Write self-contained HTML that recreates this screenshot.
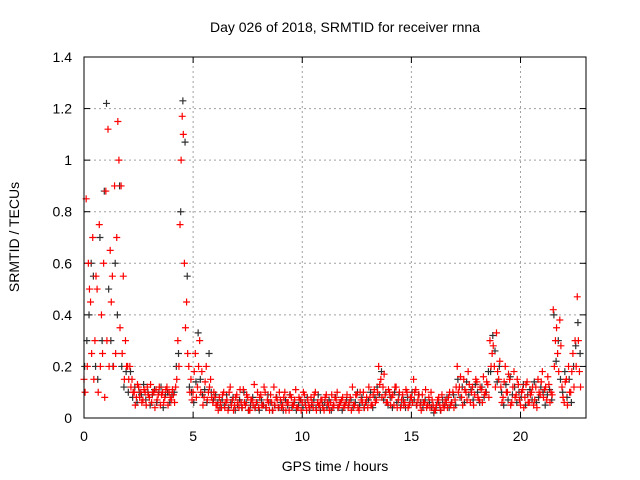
<!DOCTYPE html>
<html><head><meta charset="utf-8"><style>
body{margin:0;background:#fff}
svg{display:block;font-family:"Liberation Sans",sans-serif;font-size:14px}
</style></head><body>
<svg id="chart" width="640" height="480">
<text x="345" y="32" text-anchor="middle">Day 026 of 2018, SRMTID for receiver rnna</text>
<text x="335" y="471" text-anchor="middle">GPS time / hours</text>
<text transform="translate(19,237) rotate(-90)" text-anchor="middle">SRMTID / TECUs</text>
<g id="grid"></g>
<g id="ticks"></g>
<g id="marks"></g>
<rect x="84" y="57" width="502" height="361" fill="none" stroke="#000"/>
</svg>
<script>
const xTicks=[0,5,10,15,20];
const yTicks=[0,0.2,0.4,0.6,0.8,1,1.2,1.4];
const yTickLabels=["0","0.2","0.4","0.6","0.8","1","1.2","1.4"];
const hours=[0,0.1,0.2,0.3,0.4,0.5,0.6,0.7,0.8,0.9,1,1.1,1.2,1.3,1.4,1.5,1.6,1.7,1.8,1.9,2,2.1,2.2,2.3,2.4,2.5,2.6,2.7,2.8,2.9,3,3.1,3.2,3.3,3.4,3.5,3.6,3.7,3.8,3.9,4,4.1,4.2,4.3,4.4,4.5,4.6,4.7,4.8,4.9,5,5.1,5.2,5.3,5.4,5.5,5.6,5.7,5.8,5.9,6,6.1,6.2,6.3,6.4,6.5,6.6,6.7,6.8,6.9,7,7.1,7.2,7.3,7.4,7.5,7.6,7.7,7.8,7.9,8,8.1,8.2,8.3,8.4,8.5,8.6,8.7,8.8,8.9,9,9.1,9.2,9.3,9.4,9.5,9.6,9.7,9.8,9.9,10,10.1,10.2,10.3,10.4,10.5,10.6,10.7,10.8,10.9,11,11.1,11.2,11.3,11.4,11.5,11.6,11.7,11.8,11.9,12,12.1,12.2,12.3,12.4,12.5,12.6,12.7,12.8,12.9,13,13.1,13.2,13.3,13.4,13.5,13.6,13.7,13.8,13.9,14,14.1,14.2,14.3,14.4,14.5,14.6,14.7,14.8,14.9,15,15.1,15.2,15.3,15.4,15.5,15.6,15.7,15.8,15.9,16,16.1,16.2,16.3,16.4,16.5,16.6,16.7,16.8,16.9,17,17.1,17.2,17.3,17.4,17.5,17.6,17.7,17.8,17.9,18,18.1,18.2,18.3,18.4,18.5,18.6,18.7,18.8,18.9,19,19.1,19.2,19.3,19.4,19.5,19.6,19.7,19.8,19.9,20,20.1,20.2,20.3,20.4,20.5,20.6,20.7,20.8,20.9,21,21.1,21.2,21.3,21.4,21.5,21.6,21.7,21.8,21.9,22,22.1,22.2,22.3,22.4,22.5,22.6,22.7];
const redA=[.15,.85,.6,.45,.7,.3,.5,.75,.4,.6,.88,1.12,.65,.55,.9,.7,1.0,.9,.55,.3,.2,
.2,.15,.1,.08,.12,.1,.07,.1,.12,.08,.06,.1,.11,.09,.05,.1,.08,.12,.1,.07,.09,.12,
.3,.75,1.17,.6,.45,
.2,.15,.1,.25,.12,.3,.18,.08,.2,.1,.15,.06,.08,
.05,.08,.04,.1,.06,.03,.12,.07,.05,.09,.04,.06,.11,.05,.08,.03,.07,.13,.06,.04,.09,.05,.1,.07,.03,.06,.12,.08,.04,.07,.05,.1,.06,.03,.08,.05,.11,.04,.07,.06,.09,.03,.05,.08,.04,.1,.06,.05,.07,.03,.09,.05,.06,.04,.08,.1,.05,.07,.04,.06,
.04,.08,.12,.05,.09,.03,.07,.1,.06,.04,.08,.05,.11,.07,.2,.15,.12,.09,.06,.1,.08,.05,.12,.07,.04,.09,.06,.1,.05,.08,.15,.11,.07,.05,.09,.06,.04,.08,.1,.05,.03,.07,.05,.09,.04,.06,.08,.05,.1,.07,
.2,.12,.08,.15,.1,.18,.06,.12,.09,.14,.07,.11,.16,.1,.13,
.3,.25,.2,.33,.15,
.12,.08,.2,.1,.15,.06,.18,.09,.13,.05,.11,.08,.14,.06,.1,.05,.12,.15,.09,.18,.11,.07,.13,.1,
.42,.3,.25,.38,
.12,.06,.15,.2,.1,.25,.3,.47,.18];
const redB=[.1,.2,.5,.25,.15,.55,.1,.2,.25,.08,.3,.2,.45,.2,.25,1.15,.35,.25,.15,.2,.15,
.12,.1,.05,.13,.08,.06,.11,.05,.09,.13,.1,.04,.07,.12,.09,.06,.11,.05,.08,.11,.06,.15,
.2,1.0,1.1,.35,.25,
.1,.07,.18,.08,.2,.1,.05,.14,.07,.12,.08,.1,.05,
.03,.06,.09,.04,.07,.1,.05,.03,.08,.06,.11,.04,.06,.09,.03,.07,.05,.04,.1,.08,.05,.12,.04,.06,.09,.03,.05,.07,.1,.04,.08,.03,.06,.09,.05,.07,.04,.08,.03,.1,.05,.07,.04,.06,.09,.03,.05,.07,.04,.08,.06,.03,.09,.05,.07,.04,.06,.08,.05,.09,
.06,.03,.05,.09,.04,.1,.06,.04,.08,.12,.05,.09,.06,.1,.13,.08,.17,.06,.11,.05,.09,.12,.04,.1,.07,.05,.11,.04,.08,.06,.1,.05,.09,.03,.06,.11,.05,.04,.07,.03,.05,.08,.03,.05,.07,.04,.1,.06,.04,.12,
.1,.16,.05,.11,.07,.13,.1,.05,.15,.08,.12,.06,.09,.14,.08,
.2,.28,.12,.18,.22,
.06,.14,.1,.17,.05,.12,.08,.15,.07,.1,.04,.13,.06,.09,.12,.07,.04,.1,.14,.08,.12,.16,.06,.09,
.2,.35,.18,.28,
.08,.14,.05,.1,.18,.12,.2,.3,.12];
const blackC=[.2,.3,.4,.6,.55,.2,.15,.7,.3,.88,1.22,.5,.3,.2,.6,.4,.9,.2,.12,.18,.1,
.18,.08,.12,.06,.1,.09,.13,.07,.1,.05,.09,.11,.06,.1,.12,.04,.09,.1,.06,.09,.1,.2,
.25,.8,1.23,1.07,.55,
.12,.1,.06,.14,.33,.15,.09,.11,.06,.25,.1,.07,.09,
.06,.04,.07,.05,.09,.04,.06,.08,.03,.05,.07,.04,.1,.06,.03,.05,.08,.04,.06,.03,.07,.05,.04,.09,.06,.03,.05,.08,.04,.06,.03,.07,.05,.09,.04,.06,.03,.05,.07,.04,.06,.08,.03,.05,.07,.04,.09,.03,.05,.06,.04,.07,.03,.05,.08,.04,.06,.03,.05,.07,
.05,.07,.04,.06,.1,.05,.08,.04,.06,.07,.1,.04,.08,.12,.09,.18,.07,.1,.05,.08,.04,.1,.06,.09,.05,.07,.04,.08,.06,.1,.07,.05,.09,.06,.04,.07,.05,.06,.04,.02,.04,.06,.03,.07,.05,.08,.04,.06,.09,.05,
.15,.08,.12,.06,.14,.09,.11,.07,.13,.1,.06,.12,.08,.1,.18,
.18,.32,.26,.14,.2,
.1,.05,.13,.07,.16,.09,.12,.06,.1,.08,.13,.05,.09,.11,.07,.14,.06,.08,.12,.1,.05,.09,.11,.07,
.4,.22,.3,.15,
.1,.18,.08,.15,.06,.2,.28,.37,.25];

const X0=84,X1=586,Y0=418,Y1=57,XMAX=23,YMAX=1.4;
const xs=h=>X0+(X1-X0)*h/XMAX;
const ys=v=>Y0-(Y0-Y1)*v/YMAX;
const NS="http://www.w3.org/2000/svg";
function mk(tag,attrs,parent){const e=document.createElementNS(NS,tag);for(const k in attrs)e.setAttribute(k,attrs[k]);parent.appendChild(e);return e;}
const grid=document.getElementById('grid'),ticks=document.getElementById('ticks'),marks=document.getElementById('marks');
xTicks.forEach(t=>{
  const x=xs(t);
  if(t>0){const g=mk('line',{x1:x,x2:x,y1:Y0,y2:Y1,stroke:'#a0a0a0','stroke-dasharray':'2,3'},grid);
  
  }
  const l=mk('text',{x:x,y:Y0+23,'text-anchor':'middle'},ticks);l.textContent=t;
  
  
  mk('line',{x1:x,x2:x,y1:Y0,y2:Y0-6,stroke:'#000'},ticks);
  mk('line',{x1:x,x2:x,y1:Y1,y2:Y1+6,stroke:'#000'},ticks);
});
yTicks.forEach((t,i)=>{
  const y=ys(t);
  if(t>0&&t<YMAX){const g=mk('line',{x1:X0,x2:X1,y1:y,y2:y,stroke:'#a0a0a0','stroke-dasharray':'2,3'},grid);
  
  }
  const l=mk('text',{x:X0-12,y:y+5,'text-anchor':'end'},ticks);l.textContent=yTickLabels[i];
  
  
  mk('line',{x1:X0,x2:X0+6,y1:y,y2:y,stroke:'#000'},ticks);
  mk('line',{x1:X1,x2:X1-6,y1:y,y2:y,stroke:'#000'},ticks);
});
function plus(h,v,color,name){
  const x=xs(h),y=ys(v);
  const p=mk('path',{d:`M${x-3.5} ${y}H${x+3.5}M${x} ${y-3.5}V${y+3.5}`,stroke:color,'stroke-width':1.2,fill:'none'},marks);
  
  
}
hours.forEach((h,i)=>plus(h+0.03,blackC[i],'#303030','point-black'));
hours.forEach((h,i)=>plus(h,redA[i],'#ff0000','point-red'));
hours.forEach((h,i)=>plus(h+0.05,redB[i],'#ff0000','point-red'));
</script>
</body></html>
